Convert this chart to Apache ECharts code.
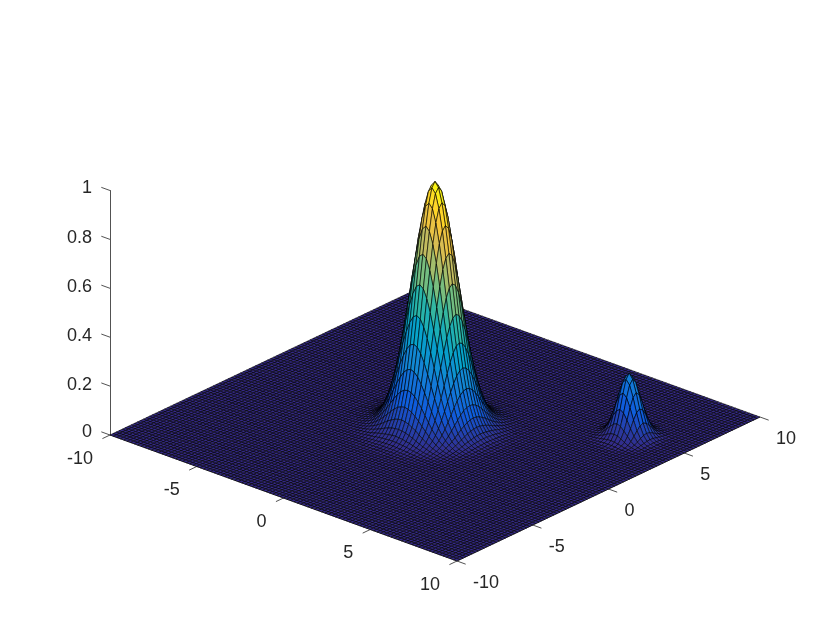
<!DOCTYPE html>
<html>
<head>
<meta charset="utf-8">
<style>html,body{margin:0;padding:0;background:#fff}#c{width:840px;height:630px}</style>
<script src="https://cdn.jsdelivr.net/npm/echarts@6/dist/echarts.min.js"></script>
</head>
<body>
<div id="c"></div>
<script>
// axis ticks
const xTicks = [-10, -5, 0, 5, 10];
const yTicks = [-10, -5, 0, 5, 10];
const zTicks = [0, 0.2, 0.4, 0.6, 0.8, 1];
// surface sampling: nodes from -10 to 10, 101 per side
const gridMin = -10, gridStep = 0.2, gridCount = 101;
// main peak centre node and side peak centre node (x, y)
const mainCentre = [0, 0];
const sideCentre = [7, 4.8];
// heights in thousandths, by node distance along the two axes (i<=j): row i starts at j=i
const mainPeakRows = [
 [1000,980,923,835,726,607,487,375,278,198,135,89,56,34,20,11,6,3,2],
 [961,905,818,712,595,477,368,272,194,132,87,55,33,20,11,6,3,2],
 [852,771,670,560,449,346,257,183,125,82,52,31,18,10,6,3,1],
 [697,606,507,407,313,232,165,113,74,47,28,17,9,5,3,1],
 [527,441,354,272,202,144,98,65,41,25,15,8,4,2,1],
 [368,296,228,169,120,82,54,34,21,12,7,4,2,1],
 [237,183,135,96,66,43,27,17,10,5,3,1,1],
 [141,104,74,51,33,21,13,8,4,2,1,1],
 [77,55,38,25,16,9,6,3,2,1],
 [39,27,18,11,7,4,2,1,1],
 [18,12,8,5,3,1,1],
 [8,5,3,2,1,1],
 [3,2,1,1],
 [1,1]
];
const sidePeakRows = [
 [255,235,185,124,71,34,14,5,2,1],
 [217,171,114,65,32,13,5,1],
 [135,90,51,25,10,4,1],
 [60,35,16,7,2,1],
 [19,9,4,1],
 [5,2,1],
 [1]
];
const parulaStops = ['#352a87','#0f5cdd','#1481d6','#06a4ca','#2eb7a4','#87bf77','#d1bb59','#fec832','#f9fb0e'];

// oblique view of the 3D box onto the 2D axes
const view = {hx: 17.35, hy: 15.15, vx: -0.02577, vy: 0.02945};
function project(x, y, z) {
  return [(x + 10) * view.hx + (y + 10) * view.hy, z + (x + 10) * view.vx + (y + 10) * view.vy];
}
function peakHeight(rows, centre, ix, iy) {
  const a = Math.abs(ix - Math.round((centre[0] - gridMin) / gridStep));
  const b = Math.abs(iy - Math.round((centre[1] - gridMin) / gridStep));
  const lo = Math.min(a, b), hi = Math.max(a, b);
  const row = rows[lo];
  if (!row) return 0;
  const v = row[hi - lo];
  return v === undefined ? 0 : v / 1000;
}
function height(ix, iy) {
  return peakHeight(mainPeakRows, mainCentre, ix, iy) + peakHeight(sidePeakRows, sideCentre, ix, iy);
}
// back-to-front list of cells: x0, y0, z00 (colour), z10, z11, z01
const cells = [];
for (let ix = 0; ix < gridCount - 1; ix++) {
  for (let iy = gridCount - 2; iy >= 0; iy--) {
    cells.push([gridMin + ix * gridStep, gridMin + iy * gridStep,
      height(ix, iy), height(ix + 1, iy), height(ix + 1, iy + 1), height(ix, iy + 1)]);
  }
}
// tick marks: x, y, z, tick direction, label
const tickLen = 0.5;
const tickData = [];
xTicks.forEach(t => tickData.push([t, -10, 0, 0, -tickLen, 0, String(t), -17, 24, 'right']));
yTicks.forEach(t => tickData.push([10, t, 0, tickLen, 0, 0, String(t), 16, 22, 'left']));
zTicks.forEach(t => tickData.push([-10, -10, t, -tickLen, 0, 0, '', 0, 0, 'right']));
const inkColor = '#262626';
const zLabelLift = {'0': 6, '0.2': 2, '0.4': 2, '0.6': 2, '0.8': 2, '1': 4};

function renderCell(params, api) {
  const x0 = api.value(0), y0 = api.value(1), x1 = x0 + gridStep, y1 = y0 + gridStep;
  const pts = [
    api.coord(project(x0, y0, api.value(2))),
    api.coord(project(x1, y0, api.value(3))),
    api.coord(project(x1, y1, api.value(4))),
    api.coord(project(x0, y1, api.value(5)))
  ];
  return {type: 'polygon', shape: {points: pts}, silent: true,
    style: {fill: api.visual('color'), stroke: '#000', lineWidth: 0.6}};
}
function renderTick(params, api) {
  const d = tickData[params.dataIndex];
  const a = api.coord(project(d[0], d[1], d[2]));
  const b = api.coord(project(d[0] + d[3], d[1] + d[4], d[2] + d[5]));
  const children = [{type: 'line', shape: {x1: a[0], y1: a[1], x2: b[0], y2: b[1]},
    style: {stroke: inkColor, lineWidth: 0.8}}];
  if (d[6] !== '') {
    children.push({type: 'text', style: {text: d[6], x: a[0] + d[7], y: a[1] + d[8],
      textAlign: d[9], textVerticalAlign: 'middle', fill: inkColor, fontSize: 18,
      fontFamily: 'Liberation Sans'}});
  }
  return {type: 'group', children};
}
function renderEdge(params, api) {
  const a = api.coord(project(api.value(0), api.value(1), 0));
  const b = api.coord(project(api.value(2), api.value(3), 0));
  return {type: 'line', shape: {x1: a[0], y1: a[1], x2: b[0], y2: b[1]},
    style: {stroke: inkColor, lineWidth: 0.8}};
}
const rich = {};
Object.keys(zLabelLift).forEach((k, i) => {
  rich['l' + i] = {padding: [0, 0, zLabelLift[k], 0], fontSize: 18, color: inkColor, fontFamily: 'Liberation Sans'};
});
const chart = echarts.init(document.getElementById('c'), null, {renderer: 'canvas'});
chart.setOption({
  animation: false,
  backgroundColor: '#fff',
  grid: {left: 110, top: 190.5, width: 650, height: 244.5},
  xAxis: {type: 'value', min: 0, max: 650, show: false},
  yAxis: {type: 'value', min: 0, max: 1, interval: 0.2, position: 'left',
    axisLine: {show: true, onZero: false, lineStyle: {color: inkColor, width: 0.8}},
    axisTick: {show: false}, splitLine: {show: false},
    axisLabel: {margin: 18, align: 'right', verticalAlign: 'middle',
      formatter: v => {
        const s = String(Math.round(v * 10) / 10);
        return '{l' + Object.keys(zLabelLift).indexOf(s) + '|' + s + '}';
      }, rich}},
  visualMap: {show: false, type: 'continuous', min: 0, max: 1, dimension: 2, seriesIndex: 2,
    inRange: {color: parulaStops}},
  series: [
    {type: 'custom', coordinateSystem: 'cartesian2d', renderItem: renderEdge, silent: true, z: 1,
      data: [[-10, -10, 10, -10], [10, -10, 10, 10]], encode: {x: [], y: []}},
    {type: 'custom', coordinateSystem: 'cartesian2d', renderItem: renderTick, silent: true, z: 1,
      data: tickData.map(d => d.slice(0, 6)), encode: {x: [], y: []}},
    {type: 'custom', coordinateSystem: 'cartesian2d', renderItem: renderCell, silent: true, z: 2,
      progressive: 0, data: cells, encode: {x: [], y: []},
      dimensions: ['x', 'y', 'z', 'z10', 'z11', 'z01']}
  ]
});
</script>
</body>
</html>
